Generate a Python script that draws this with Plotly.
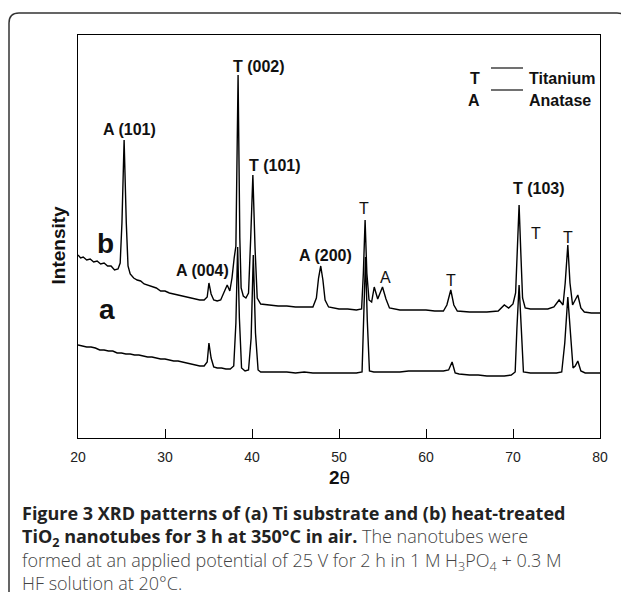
import plotly.graph_objects as go

# ---------------- data (2theta in degrees, intensity in arbitrary units) ----------------
b_2theta = [20.0, 20.3, 20.6, 21.0, 21.4, 21.8, 22.2, 22.6, 23.0, 23.4, 23.8, 24.2, 24.6, 24.85,
            25.05, 25.3, 25.55, 25.75, 26.0, 26.4, 26.8, 27.2, 27.6, 28.0, 28.5, 29.0, 29.5, 30.0,
            30.5, 31.0, 31.5, 32.0, 32.5, 33.0, 33.5, 34.0, 34.5, 34.85, 35.05, 35.3, 35.6, 36.0,
            36.4, 36.8, 37.15, 37.45, 37.7, 37.95, 38.15, 38.4, 38.6, 38.75, 39.0, 39.3, 39.6,
            39.85, 40.1, 40.35, 40.6, 41.0, 42.0, 43.0, 44.0, 45.0, 46.0, 47.0, 47.4, 47.65, 47.9,
            48.15, 48.4, 48.8, 50.0, 51.0, 52.0, 52.6, 52.8, 53.0, 53.2, 53.45, 53.75, 54.05, 54.45,
            55.0, 55.4, 55.8, 57.0, 58.0, 59.0, 60.0, 61.0, 62.0, 62.4, 62.85, 63.2, 63.6, 65.0,
            66.0, 67.0, 68.3, 69.0, 69.5, 70.0, 70.3, 70.5, 70.7, 70.9, 71.1, 71.4, 72.0, 73.0,
            74.0, 74.7, 75.3, 75.75, 76.0, 76.3, 76.55, 76.85, 77.15, 77.45, 77.8, 78.2, 79.0, 80.0]
b_intensity = [183, 180, 181, 178, 179, 176, 177, 174, 175, 172, 172, 168, 169, 175,
               215, 298, 215, 172, 164, 160, 158, 157, 154, 153, 151, 150, 147, 147,
               145, 144, 143, 142, 141, 140, 139, 138, 138, 141, 155, 144, 138, 137,
               138, 146, 153, 147, 160, 180, 192, 363, 200, 150, 142, 140, 145,
               200, 263, 190, 140, 134, 133, 132, 132, 131, 131, 131, 140, 160, 172,
               158, 138, 131, 129, 129, 128, 129, 165, 218, 165, 138, 136, 151, 139,
               151, 139, 130, 128, 128, 128, 128, 127, 127, 133, 148, 133, 127, 126,
               126, 126, 127, 133, 130, 134, 145, 190, 233, 185, 140, 130, 129, 129,
               129, 131, 138, 133, 155, 193, 155, 133, 138, 143, 130, 126, 125, 125]

a_2theta = [20.0, 20.5, 21.0, 21.5, 22.0, 22.5, 23.0, 23.5, 24.0, 24.5, 25.0, 25.5, 26.0, 26.5,
            27.0, 27.5, 28.0, 28.5, 29.0, 29.5, 30.0, 30.5, 31.0, 31.5, 32.0, 32.5, 33.0, 33.5,
            34.0, 34.5, 34.85, 35.05, 35.3, 35.6, 36.0, 36.5, 37.0, 37.5, 37.9, 38.15, 38.35,
            38.55, 38.8, 39.2, 39.6, 39.9, 40.15, 40.4, 40.7, 41.0, 42.0, 43.0, 44.0, 45.0, 46.0,
            47.0, 48.0, 49.0, 50.0, 51.0, 52.0, 52.65, 52.85, 53.05, 53.25, 53.5, 54.0, 55.0,
            56.0, 57.0, 58.0, 59.0, 60.0, 61.0, 62.0, 62.6, 63.0, 63.35, 63.8, 65.0, 66.0, 67.0,
            68.0, 69.0, 69.8, 70.25, 70.45, 70.7, 70.95, 71.2, 72.0, 73.0, 74.0, 75.0, 75.6,
            75.95, 76.3, 76.6, 76.9, 77.15, 77.45, 77.8, 78.3, 79.0, 80.0]
a_intensity = [93, 92, 91, 91, 90, 88, 88, 87, 87, 85, 85, 84, 84, 83,
               83, 82, 81, 81, 80, 79, 79, 78, 77, 77, 76, 75, 74, 73,
               72, 72, 76, 95, 80, 71, 70, 70, 69, 69, 72, 115, 191,
               120, 70, 67, 68, 100, 183, 105, 68, 66, 66, 66, 66, 65, 66,
               65, 65, 65, 65, 65, 65, 66, 120, 181, 118, 67, 66, 66,
               66, 66, 67, 67, 67, 67, 67, 68, 76, 65, 64, 63, 63, 62,
               62, 62, 63, 66, 110, 153, 110, 66, 65, 65, 65, 65, 66,
               95, 141, 100, 70, 72, 77, 67, 65, 65, 65]

x_ticks = [20, 30, 40, 50, 60, 70, 80]

# peak labels: (text, 2theta, intensity, bold)
peak_labels = [
    ("T (002)", 40.8, 372, True),
    ("A (101)", 25.9, 309, True),
    ("T (101)", 42.6, 273, True),
    ("A (004)", 34.3, 168, True),
    ("A (200)", 48.5, 183, True),
    ("T (103)", 73.0, 250, True),
    ("T", 52.9, 230, False),
    ("A", 55.4, 161, False),
    ("T", 62.9, 158, False),
    ("T", 72.7, 205, False),
    ("T", 76.3, 201, False),
]

# ---------------- figure ----------------
# The page body has an 8 px margin, so the figure is 8 px smaller and all
# reference pixel positions below are measured on the 629x592 reference.
OFF = 8
W, H = 629 - OFF, 592 - OFF
L, R, T, B = 78, 600, 35, 438


def px(xp):
    return (xp - L) / (R - L)


def py(yp):
    return (B - yp) / (B - T)


fig = go.Figure()
fig.add_trace(go.Scatter(x=b_2theta, y=b_intensity, mode="lines",
                         line=dict(color="black", width=1.4), showlegend=False))
fig.add_trace(go.Scatter(x=a_2theta, y=a_intensity, mode="lines",
                         line=dict(color="black", width=1.4), showlegend=False))

font_main = "Liberation Sans, Arial, sans-serif"
cap_font = "Open Sans, sans-serif"

ann = []
for txt, xv, yv, bold in peak_labels:
    ann.append(dict(x=xv, y=yv, xref="x", yref="y", showarrow=False,
                    text=f"<b>{txt}</b>" if bold else txt,
                    font=dict(family=font_main, size=16, color="#111")))

# series labels
ann.append(dict(x=px(95), y=py(243), xref="paper", yref="paper", showarrow=False,
                text="<b>b</b>", font=dict(family=font_main, size=28, color="#111")))
ann.append(dict(x=px(97), y=py(327), xref="paper", yref="paper", showarrow=False,
                text="<b>a</b>", font=dict(family=font_main, size=28, color="#111")))

# legend key (text + line)
for txt, name, yy in [("T", "Titanium", 68), ("A", "Anatase", 90)]:
    ann.append(dict(x=px(482), y=py(yy), xref="paper", yref="paper", showarrow=False,
                    text=f"<b>{txt}</b>", font=dict(family=font_main, size=16, color="#111")))
    ann.append(dict(x=px(527), y=py(yy), xref="paper", yref="paper", showarrow=False,
                    xanchor="left", text=f"<b>{name}</b>",
                    font=dict(family=font_main, size=16, color="#111")))

# axis titles
ann.append(dict(x=px(45), y=py(245), xref="paper", yref="paper", showarrow=False,
                text="<b>Intensity</b>", textangle=-90,
                font=dict(family=font_main, size=19, color="#111")))
ann.append(dict(x=0.5, y=py(490), xref="paper", yref="paper", showarrow=False,
                text="<b>2</b>θ", font=dict(family=font_main, size=19, color="#111")))

# caption (one multi-line text block)
light = "<span style='color:#444;font-weight:300'>"
cap_lines = [
    "<b>Figure 3 XRD patterns of (a) Ti substrate and (b) heat-treated</b>",
    "<b>TiO<sub>2</sub> nanotubes for 3 h at 350°C in air.</b> " + light + "The nanotubes were</span>",
    light + "formed at an applied potential of 25 V for 2 h in 1 M H<sub>3</sub>PO<sub>4</sub> + 0.3 M</span>",
    light + "HF solution at 20°C.</span>",
]
ann.append(dict(x=px(20), y=py(548), xref="paper", yref="paper", showarrow=False,
                xanchor="left", yanchor="middle", align="left",
                text="<br>".join(cap_lines),
                font=dict(family=cap_font, size=18, color="#222")))

shapes = []
for yy in (68, 90):
    shapes.append(dict(type="line", xref="paper", yref="paper",
                       x0=px(491), x1=px(523), y0=py(yy), y1=py(yy),
                       line=dict(color="#111", width=1.2)))

# outer rounded frame (open at the bottom)
x0, x1, y0, r = 9, 627, 13, 10
path = (f"M {px(x0)},{py(620)} L {px(x0)},{py(y0 + r)} Q {px(x0)},{py(y0)} {px(x0 + r)},{py(y0)} "
        f"L {px(x1 - r)},{py(y0)} Q {px(x1)},{py(y0)} {px(x1)},{py(y0 + r)} L {px(x1)},{py(620)}")
shapes.append(dict(type="path", xref="paper", yref="paper", path=path,
                   line=dict(color="#333", width=1.5)))

fig.update_layout(
    width=W, height=H,
    margin=dict(l=L - OFF, r=(629 - R), t=T - OFF, b=(592 - B), pad=0),
    paper_bgcolor="white", plot_bgcolor="white",
    xaxis=dict(range=[20, 80], tickvals=x_ticks, ticks="inside", ticklen=9, tickwidth=1,
               tickcolor="black", showline=True, linecolor="black", linewidth=1, mirror=True,
               showgrid=False, zeroline=False, ticklabelstandoff=6,
               tickfont=dict(family=font_main, size=14, color="#222")),
    yaxis=dict(range=[0, 403], showticklabels=False, ticks="", showline=True,
               linecolor="black", linewidth=1, mirror=True, showgrid=False, zeroline=False),
    annotations=ann, shapes=shapes,
)

fig.write_html("out.html")
